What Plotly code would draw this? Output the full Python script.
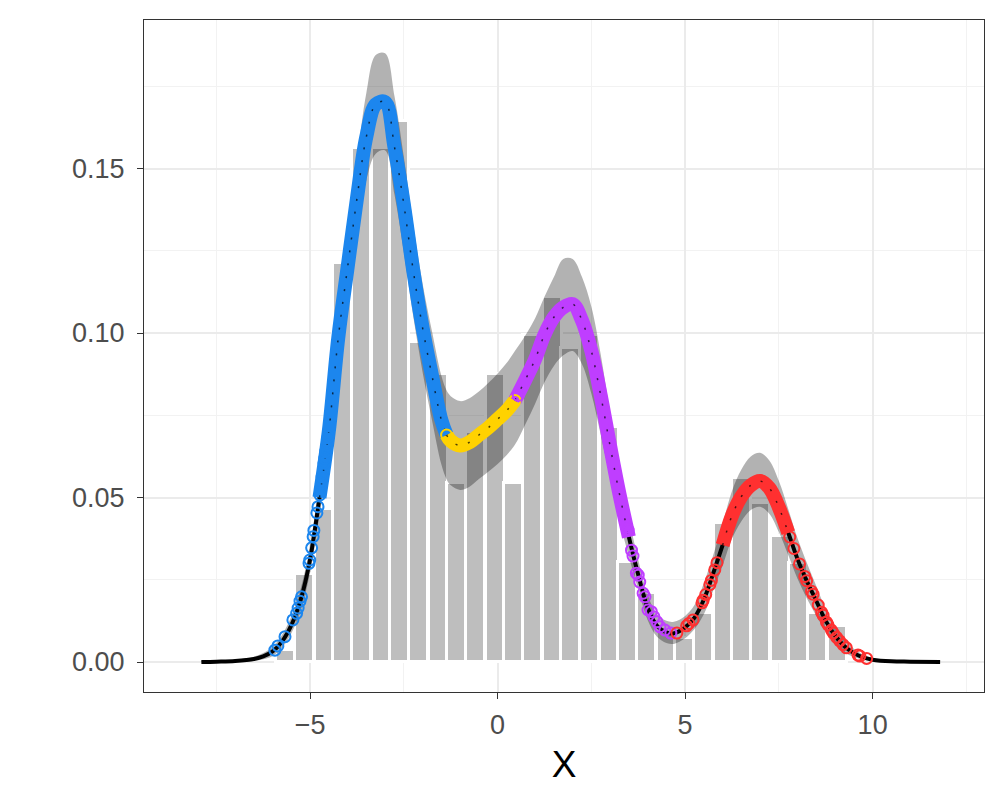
import numpy as np
import plotly.graph_objects as go

# ---------------- data ----------------
# histogram (bin centres, density heights)
hist_x = [-5.644, -5.137, -4.630, -4.124, -3.617, -3.110, -2.604, -2.097, -1.590, -1.084,
          -0.577, -0.070, 0.436, 0.943, 1.450, 1.956, 2.463, 2.970, 3.476, 3.983,
          4.490, 4.996, 5.503, 6.010, 6.516, 7.023, 7.530, 8.036, 8.543, 9.050]
hist_y = [0.0036, 0.0267, 0.0464, 0.1212, 0.1563, 0.1563, 0.1643, 0.0974, 0.0875, 0.0543,
          0.0700, 0.0875, 0.0543, 0.0994, 0.1110, 0.0953, 0.0994, 0.0715, 0.0305, 0.0209,
          0.0097, 0.0072, 0.0150, 0.0423, 0.0560, 0.0482, 0.0383, 0.0300, 0.0150, 0.0109]

# density curve
dens_x = [-7.9, -7.5, -7.0, -6.5, -6.25, -6.0, -5.75, -5.5, -5.25, -5.0, -4.75, -4.5, -4.25,
          -4.0, -3.75, -3.5, -3.25, -3.0, -2.75, -2.5, -2.25, -2.0, -1.75, -1.5, -1.36, -1.25,
          -1.0, -0.75, -0.5, -0.25, 0.0, 0.25, 0.46, 0.75, 1.0, 1.25, 1.5, 1.75, 2.0, 2.25,
          2.5, 2.75, 3.0, 3.25, 3.5, 3.75, 4.0, 4.25, 4.5, 4.7, 5.0, 5.25, 5.5, 5.75, 6.0,
          6.25, 6.5, 6.75, 7.0, 7.25, 7.5, 7.75, 8.0, 8.25, 8.5, 8.75, 9.0, 9.25, 9.5, 9.75,
          10.0, 10.5, 11.0, 11.8]
dens_y = [0.0000, 0.0001, 0.0003, 0.0009, 0.0017, 0.0032, 0.0062, 0.0112, 0.0190, 0.0313,
          0.0500, 0.0703, 0.0985, 0.1200, 0.1410, 0.1597, 0.1695, 0.1702, 0.1565, 0.1390,
          0.1190, 0.1015, 0.0870, 0.0735, 0.0690, 0.0672, 0.0658, 0.0668, 0.0690, 0.0712,
          0.0738, 0.0765, 0.0795, 0.0860, 0.0920, 0.0995, 0.1048, 0.1078, 0.1088, 0.1038,
          0.0945, 0.0810, 0.0656, 0.0510, 0.0380, 0.0265, 0.0165, 0.0110, 0.0090, 0.0087,
          0.0105, 0.0135, 0.0190, 0.0270, 0.0355, 0.0445, 0.0503, 0.0537, 0.0550, 0.0528,
          0.0470, 0.0393, 0.0312, 0.0245, 0.0185, 0.0125, 0.0080, 0.0048, 0.0027, 0.0014,
          0.0007, 0.0002, 0.0001, 0.0000]
# confidence band around the density
band_hi = [0.0003, 0.0004, 0.0007, 0.0016, 0.0027, 0.0046, 0.0082, 0.0138, 0.0224, 0.0355,
           0.0555, 0.0770, 0.1065, 0.1295, 0.1525, 0.1730, 0.1845, 0.1850, 0.1720, 0.1535,
           0.1330, 0.1150, 0.1005, 0.0870, 0.0825, 0.0808, 0.0793, 0.0802, 0.0822, 0.0848,
           0.0877, 0.0910, 0.0945, 0.0995, 0.1045, 0.1110, 0.1170, 0.1225, 0.1225, 0.1170,
           0.1080, 0.0935, 0.0755, 0.0590, 0.0440, 0.0310, 0.0205, 0.0145, 0.0125, 0.0122,
           0.0140, 0.0173, 0.0240, 0.0325, 0.0420, 0.0520, 0.0585, 0.0625, 0.0636, 0.0612,
           0.0550, 0.0465, 0.0375, 0.0300, 0.0230, 0.0160, 0.0108, 0.0067, 0.0040, 0.0022,
           0.0012, 0.0004, 0.0002, 0.0001]
band_lo = [0.0000, 0.0000, 0.0000, 0.0003, 0.0008, 0.0018, 0.0043, 0.0087, 0.0157, 0.0272,
           0.0447, 0.0638, 0.0905, 0.1105, 0.1295, 0.1465, 0.1545, 0.1555, 0.1420, 0.1245,
           0.1050, 0.0880, 0.0735, 0.0600, 0.0555, 0.0537, 0.0523, 0.0533, 0.0556, 0.0578,
           0.0602, 0.0630, 0.0660, 0.0725, 0.0785, 0.0850, 0.0900, 0.0932, 0.0945, 0.0905,
           0.0815, 0.0690, 0.0560, 0.0430, 0.0320, 0.0220, 0.0128, 0.0077, 0.0058, 0.0055,
           0.0072, 0.0100, 0.0145, 0.0218, 0.0293, 0.0375, 0.0428, 0.0462, 0.0472, 0.0450,
           0.0395, 0.0325, 0.0252, 0.0192, 0.0140, 0.0092, 0.0055, 0.0030, 0.0015, 0.0007,
           0.0003, 0.0000, 0.0000, 0.0000]

# clusters: dense stretches of the curve (x limits) and individual sparse points
cluster_names = ["1", "2", "3", "4"]
cluster_colors = ["#1C86EE", "#FFD200", "#BF3EFF", "#FF3030"]
cluster_dense = [(-4.75, -1.36), (-1.36, 0.46), (0.46, 3.5), (6.0, 7.75)]

blue_pts_x = [-5.94, -5.86, -5.67, -5.46, -5.36, -5.32, -5.27, -5.23, -5.03, -5.01, -4.96,
              -4.92, -4.90, -4.82, -4.79, -4.74, -4.70, -4.68, -4.63, -4.61, -4.58, -4.55, -4.52]
blue_pts_y = [0.0036, 0.0049, 0.0077, 0.0128, 0.0148, 0.0164, 0.0185, 0.0198, 0.0300, 0.0310,
              0.0347, 0.0381, 0.0400, 0.0453, 0.0472, 0.0508, 0.0543, 0.0562, 0.0605, 0.0619,
              0.0641, 0.0660, 0.0685]
yellow_pts_x = [-1.36, 0.46]
yellow_pts_y = [0.0690, 0.0795]
purple_pts_x = [0.55, 3.44, 3.48, 3.57, 3.61, 3.70, 3.75, 3.79, 3.88, 3.93, 4.01, 4.10, 4.17,
                4.25, 4.33, 4.46, 4.62]
purple_pts_y = [0.0810, 0.0411, 0.0401, 0.0340, 0.0322, 0.0270, 0.0264, 0.0243, 0.0209, 0.0198,
                0.0158, 0.0153, 0.0137, 0.0122, 0.0107, 0.0097, 0.0088]
red_pts_x = [4.78, 5.04, 5.10, 5.21, 5.45, 5.48, 5.55, 5.66, 5.70, 5.79, 5.85,
             7.69, 7.79, 7.90, 8.05, 8.19, 8.24, 8.37, 8.41, 8.55, 8.64, 8.68, 8.77, 8.81,
             8.90, 8.95, 9.04, 9.12, 9.21, 9.30, 9.61, 9.66, 9.84]
red_pts_y = [0.0088, 0.0110, 0.0117, 0.0128, 0.0180, 0.0188, 0.0205, 0.0235, 0.0248, 0.0280,
             0.0302, 0.0412, 0.0380, 0.0345, 0.0298, 0.0260, 0.0247, 0.0215, 0.0206, 0.0173,
             0.0151, 0.0142, 0.0121, 0.0113, 0.0097, 0.0088, 0.0075, 0.0064, 0.0053, 0.0043,
             0.0021, 0.0018, 0.0011]
cluster_pts = [(blue_pts_x, blue_pts_y), (yellow_pts_x, yellow_pts_y),
               (purple_pts_x, purple_pts_y), (red_pts_x, red_pts_y)]

x_ticks = [-5, 0, 5, 10]
y_ticks = [0.0, 0.05, 0.10, 0.15]

# ---------------- figure ----------------
fig = go.Figure()

bw = float(np.mean(np.diff(hist_x)))
fig.add_trace(go.Bar(x=hist_x, y=hist_y, width=bw,
                     marker=dict(color="#BEBEBE", line=dict(color="white", width=3)),
                     showlegend=False, hoverinfo="skip"))

fig.add_trace(go.Scatter(x=dens_x, y=band_lo, mode="lines",
                         line=dict(width=0, shape="spline"), showlegend=False, hoverinfo="skip"))
fig.add_trace(go.Scatter(x=dens_x, y=band_hi, mode="lines", fill="tonexty",
                         fillcolor="rgba(0,0,0,0.30)",
                         line=dict(width=0, shape="spline"), showlegend=False, hoverinfo="skip"))

fig.add_trace(go.Scatter(x=dens_x, y=dens_y, mode="lines",
                         line=dict(color="black", width=4, shape="spline"),
                         showlegend=False, hoverinfo="skip"))

dx = np.array(dens_x)
dy = np.array(dens_y)
for name, col, (a, b), (px, py) in zip(cluster_names, cluster_colors, cluster_dense, cluster_pts):
    m = (dx >= a - 1e-9) & (dx <= b + 1e-9)
    fig.add_trace(go.Scatter(x=dx[m], y=dy[m], mode="lines",
                             line=dict(color=col, width=14, shape="spline"),
                             showlegend=False, hoverinfo="skip"))
    # specks of the black curve showing through the overlapping open circles
    fig.add_trace(go.Scatter(x=dx[m], y=dy[m], mode="lines",
                             line=dict(color="rgba(0,0,0,0.7)", width=1.5, shape="spline",
                                       dash="2px,11px"),
                             showlegend=False, hoverinfo="skip"))
for name, col, (a, b), (px, py) in zip(cluster_names, cluster_colors, cluster_dense, cluster_pts):
    fig.add_trace(go.Scatter(x=px, y=py, mode="markers",
                             marker=dict(symbol="circle-open", size=11, color=col,
                                         line=dict(width=2, color=col)),
                             showlegend=False, hoverinfo="skip"))

font_family = "Liberation Sans, Arial, sans-serif"
grid_major = "#EBEBEB"
fig.update_xaxes(range=[-9.43, 12.97], tickvals=x_ticks,
                 ticktext=[f"{v}".replace("-", "\u2212") for v in x_ticks],
                 showgrid=True, gridcolor=grid_major, gridwidth=1.6, zeroline=False,
                 minor=dict(dtick=2.5, tick0=0, showgrid=True, gridcolor="#F2F2F2", gridwidth=0.9),
                 ticks="outside", ticklen=6, tickwidth=1.3, tickcolor="#333333",
                 showline=True, mirror=True, linecolor="#333333", linewidth=1.3,
                 tickfont=dict(family=font_family, size=27, color="#4D4D4D"),
                 ticklabelstandoff=2,
                 title=dict(text="X", font=dict(family=font_family, size=37, color="black"),
                            standoff=12))
fig.update_yaxes(range=[-0.00912, 0.19514], tickvals=y_ticks, ticktext=[f"{v:.2f}" for v in y_ticks],
                 showgrid=True, gridcolor=grid_major, gridwidth=1.6, zeroline=False,
                 minor=dict(dtick=0.025, tick0=0, showgrid=True, gridcolor="#F2F2F2", gridwidth=0.9),
                 ticks="outside", ticklen=6, tickwidth=1.3, tickcolor="#333333",
                 showline=True, mirror=True, linecolor="#333333", linewidth=1.3,
                 tickfont=dict(family=font_family, size=27, color="#4D4D4D"),
                 ticklabelstandoff=7)

fig.update_layout(width=1000, height=800, plot_bgcolor="white", paper_bgcolor="white",
                  margin=dict(l=144, r=16, t=20, b=108), bargap=0, showlegend=False)

fig.write_html("out.html")
